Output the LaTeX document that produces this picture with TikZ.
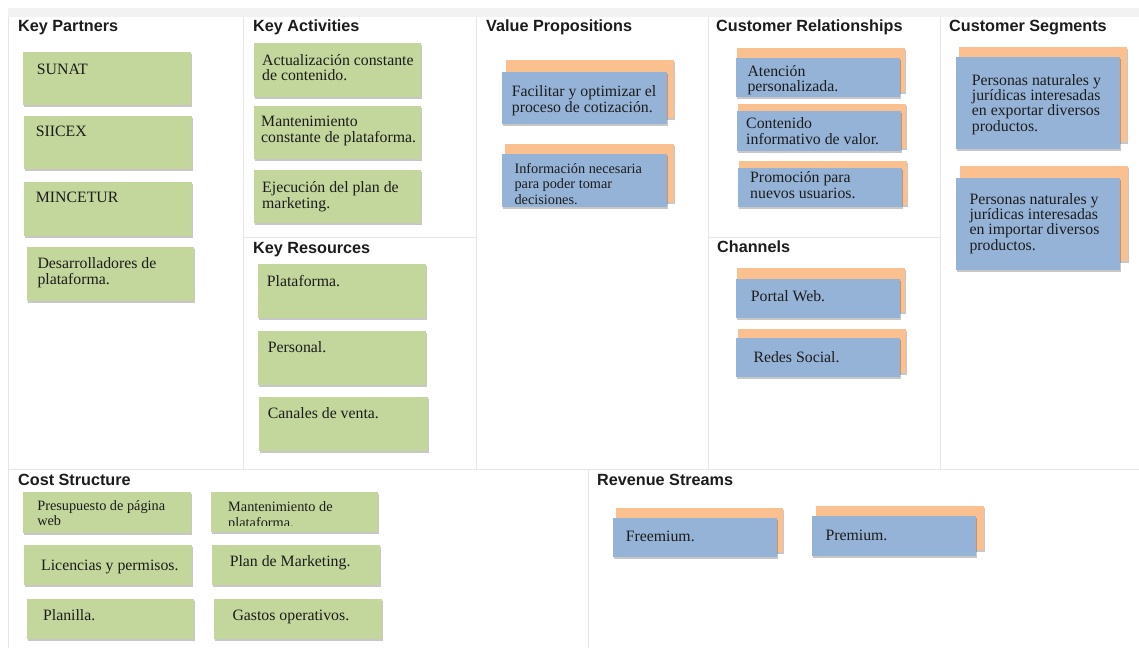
\documentclass[tikz,border=0pt]{standalone}
\usepackage{fontspec}
\setmainfont{Liberation Serif}
\newfontfamily\headfont{Liberation Sans}
\usetikzlibrary{shadows}

\definecolor{cardgreen}{RGB}{195,214,155}
\definecolor{cardblue}{RGB}{149,179,215}
\definecolor{cardorange}{RGB}{250,192,143}
\definecolor{gridline}{RGB}{230,230,230}
\definecolor{band}{RGB}{242,242,242}
\definecolor{ink}{RGB}{28,28,28}

\tikzset{
  cell/.style={draw=gridline, line width=1pt},
  head/.style={anchor=base west, inner sep=0pt, text=ink,
    font=\headfont\bfseries\fontsize{16.2}{18}\selectfont},
  body/.style={anchor=base west, inner sep=0pt, text=ink,
    font=\fontsize{15.8}{15.8}\selectfont},
  bodysmall/.style={body, font=\fontsize{14.3}{15.4}\selectfont},
  cardshadow/.style={drop shadow={shadow xshift=1.2pt, shadow yshift=-2pt,
    opacity=0.22, fill=black}},
  cardbase/.style={anchor=north west, inner sep=0pt, cardshadow},
  greencard/.style={cardbase, fill=cardgreen},
  bluecard/.style={cardbase, fill=cardblue},
  orangecard/.style={cardbase, fill=cardorange},
}

% card: style, name, x1, y1, x2, y2
\newcommand\card[6]{%
  \node[#1, minimum width={(#5-#3)*1pt}, minimum height={(#6-#4)*1pt}] (#2) at (#3,#4) {};}
% lines of a card text, aligned on the baseline of the first line
\newcommand\stack[1]{\begin{tabular}[t]{@{}l@{}}#1\end{tabular}}

\begin{document}
\begin{tikzpicture}[x=1pt, y=-1pt]
\useasboundingbox (0,0) rectangle (1139,648);
\fill[white] (0,0) rectangle (1139,648);

% canvas frame
\fill[band] (8,8) rectangle (1139,17);
\draw[cell] (8,17) -- (8,648);
\draw[cell] (243,17) -- (243,469);
\draw[cell] (476,17) -- (476,469);
\draw[cell] (708,17) -- (708,469);
\draw[cell] (940,17) -- (940,469);
\draw[cell] (8,469) -- (1139,469);
\draw[cell] (588,469) -- (588,648);
\draw[cell] (243,237) -- (476,237);
\draw[cell] (708,237) -- (940,237);

% block headings
\node[head] (hkp) at (18,31.6) {Key Partners};
\node[head] (hka) at (253,31.6) {Key Activities};
\node[head] (hvp) at (486,31.6) {Value Propositions};
\node[head] (hcr) at (716,31.6) {Customer Relationships};
\node[head] (hcs) at (949,31.6) {Customer Segments};
\node[head] (hkr) at (253,253.5) {Key Resources};
\node[head] (hch) at (717,252) {Channels};
\node[head] (hco) at (18,485.5) {Cost Structure};
\node[head] (hrs) at (597,485.5) {Revenue Streams};

% Key Partners
\card{greencard}{kp1}{23}{52}{191}{105}
\card{greencard}{kp2}{24}{116}{192}{169}
\card{greencard}{kp3}{24}{182}{192}{236}
\card{greencard}{kp4}{27}{247}{194}{301}
\node[body] (kp1t) at (36.7,74) {SUNAT};
\node[body] (kp2t) at (35.7,136.7) {SIICEX};
\node[body] (kp3t) at (35.7,202.3) {MINCETUR};
\node[body] (kp4t) at (37.3,268.3) {\stack{Desarrolladores de\\plataforma.}};

% Key Activities
\card{greencard}{ka1}{254}{43}{421}{97}
\card{greencard}{ka2}{254}{106}{421}{159}
\card{greencard}{ka3}{254}{170}{421}{223}
\node[body] (ka1t) at (262,65) {\stack{Actualización constante\\de contenido.}};
\node[body] (ka2t) at (261,126.7) {\stack{Mantenimiento\\constante de plataforma.}};
\node[body] (ka3t) at (262,192.7) {\stack{Ejecución del plan de\\marketing.}};

% Key Resources
\card{greencard}{kr1}{258}{264}{426}{318}
\card{greencard}{kr2}{258}{331}{426}{385}
\card{greencard}{kr3}{259}{397}{428}{451}
\node[body] (kr1t) at (266.7,286.7) {Plataforma.};
\node[body] (kr2t) at (267.7,352.3) {Personal.};
\node[body] (kr3t) at (267.7,418.3) {Canales de venta.};

% Value Propositions
\card{orangecard}{vp1b}{506}{60}{674}{118}
\card{bluecard}{vp1}{502}{72}{667}{124}
\card{orangecard}{vp2b}{505}{144}{674}{202}
\card{bluecard}{vp2}{502}{154}{667}{207}
\node[body] (vp1t) at (511.7,96.7) {\stack{Facilitar y optimizar el\\proceso de cotización.}};
\node[bodysmall] (vp2t) at (514.3,173.3) {\stack{Información necesaria\\para poder tomar\\decisiones.}};

% Customer Relationships
\card{orangecard}{cr1b}{737}{48}{905}{92}
\card{bluecard}{cr1}{736}{58}{900}{97}
\card{orangecard}{cr2b}{738}{104}{906}{148}
\card{bluecard}{cr2}{737}{111}{901}{151}
\card{orangecard}{cr3b}{739}{161}{907}{205}
\card{bluecard}{cr3}{738}{168}{902}{207}
\node[body] (cr1t) at (747.3,76) {\stack{Atención\\personalizada.}};
\node[body] (cr2t) at (746,128.3) {\stack{Contenido\\informativo de valor.}};
\node[body] (cr3t) at (750,182.7) {\stack{Promoción para\\nuevos usuarios.}};

% Channels
\card{orangecard}{ch1b}{737}{268}{905}{312}
\card{bluecard}{ch1}{736}{279}{900}{318}
\card{orangecard}{ch2b}{738}{329}{906}{373}
\card{bluecard}{ch2}{736}{338}{900}{377}
\node[body] (ch1t) at (750.7,301.7) {Portal Web.};
\node[body] (ch2t) at (753.3,362.7) {Redes Social.};

% Customer Segments
\card{orangecard}{sg1b}{959}{47}{1127}{142}
\card{bluecard}{sg1}{956}{57}{1120}{149}
\card{orangecard}{sg2b}{960}{166}{1128}{261}
\card{bluecard}{sg2}{956}{178}{1120}{270}
\node[body, font=\fontsize{15.8}{15}\selectfont] (sg1t) at (971.7,85)
  {\stack{Personas naturales y\\jurídicas interesadas\\en exportar diversos\\productos.}};
\node[body, font=\fontsize{15.8}{15}\selectfont] (sg2t) at (969.3,204)
  {\stack{Personas naturales y\\jurídicas interesadas\\en importar diversos\\productos.}};

% Cost Structure
\card{greencard}{co1}{23}{492}{191}{533}
\card{greencard}{co2}{24}{545}{192}{585}
\card{greencard}{co3}{27}{599}{194}{639}
\card{greencard}{co4}{211}{492}{378}{532}
\card{greencard}{co5}{212}{545}{380}{585}
\card{greencard}{co6}{214}{599}{382}{639}
\node[bodysmall] (co1t) at (37.1,510) {\stack{Presupuesto de página\\web}};
\node[body] (co2t) at (41,570) {Licencias y permisos.};
\node[body] (co3t) at (42.9,620) {Planilla.};
\begin{scope}
  \clip (211,492) rectangle (378,525.5);
  \node[bodysmall] (co4t) at (228,511.7) {\stack{Mantenimiento de\\plataforma.}};
\end{scope}
\node[body] (co5t) at (229.6,566) {Plan de Marketing.};
\node[body] (co6t) at (232.3,620.7) {Gastos operativos.};

% Revenue Streams
\card{orangecard}{rs1b}{616}{508}{783}{552}
\card{bluecard}{rs1}{613}{518}{777}{557}
\card{orangecard}{rs2b}{816}{506}{984}{550}
\card{bluecard}{rs2}{812}{516}{976}{556}
\node[body] (rs1t) at (625.6,541.7) {Freemium.};
\node[body] (rs2t) at (825.3,540) {Premium.};
\end{tikzpicture}
\end{document}
